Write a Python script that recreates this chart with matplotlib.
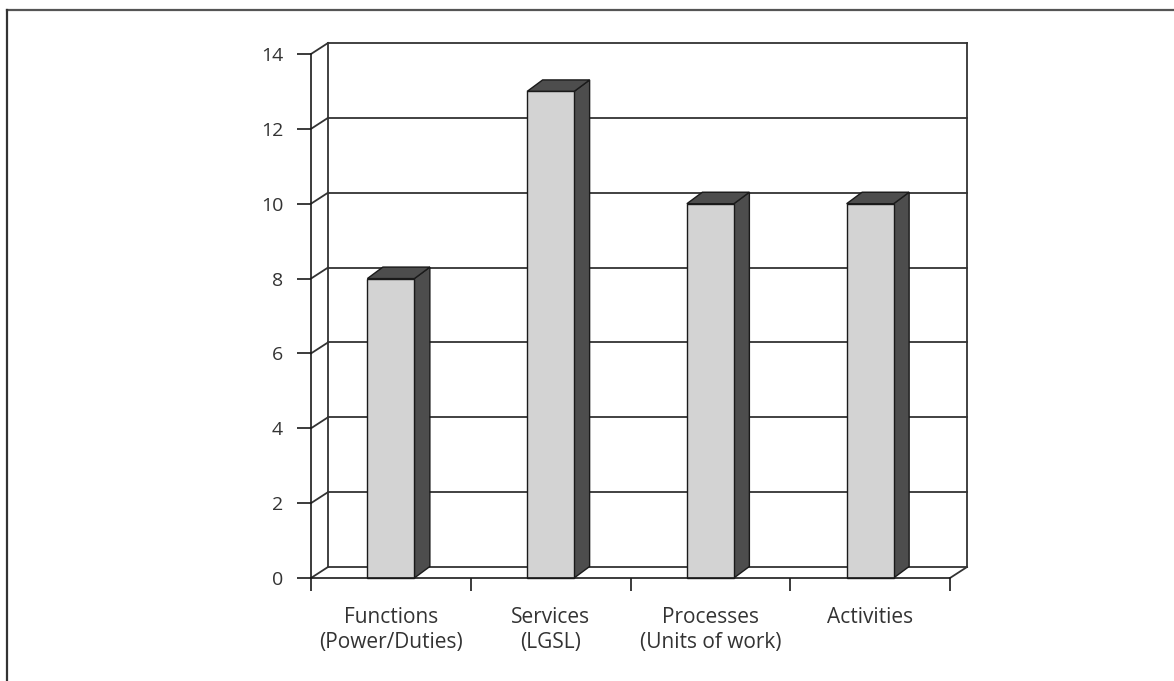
import matplotlib
matplotlib.use("Agg")
import matplotlib.pyplot as plt
from matplotlib.patches import Polygon
from matplotlib.lines import Line2D

# -- Donnees ---------------------------------------------------------------
categories = ["Functions\n(Power/Duties)", "Services\n(LGSL)",
              "Processes\n(Units of work)", "Activities"]
values = [8, 13, 10, 10]
y_ticks = [0, 2, 4, 6, 8, 10, 12, 14]

plt.rcParams["font.family"] = ["Open Sans", "DejaVu Sans"]

W, H = 1174, 681
fig = plt.figure(figsize=(W / 100, H / 100), dpi=100)

# axes = plan avant du graphe 3D (x 311->950 px, y 578->54 px)
ax = fig.add_axes([311 / W, (H - 578) / H, 639 / W, 524 / H])
n = len(categories)
ax.set_xlim(0, n)
ax.set_ylim(0, 14)

# profondeur (en unites de donnees)
px_x = 639 / n
px_y = 524 / 14
DX, DY = 17 / px_x, 11 / px_y
BDX, BDY = 15.5 / px_x, 11.5 / px_y
BAR_W = 47 / px_x

wall = "#333333"
lw = 1.3

# murs : quadrillage sur le fond et diagonales sur le mur gauche
for v in y_ticks:
    ax.add_line(Line2D([DX, n + DX], [v + DY, v + DY], color=wall, lw=lw, clip_on=False))
    ax.add_line(Line2D([0, DX], [v, v + DY], color=wall, lw=lw, clip_on=False))
ax.add_line(Line2D([DX, DX], [DY, 14 + DY], color=wall, lw=lw, clip_on=False))
ax.add_line(Line2D([n + DX, n + DX], [DY, 14 + DY], color=wall, lw=lw, clip_on=False))
ax.add_line(Line2D([n, n + DX], [0, DY], color=wall, lw=lw, clip_on=False))

# barres 3D
for i, v in enumerate(values):
    x0 = i + 0.5 - BAR_W / 2
    x1 = i + 0.5 + BAR_W / 2
    side = Polygon([(x1, 0), (x1 + BDX, BDY), (x1 + BDX, v + BDY), (x1, v)],
                   closed=True, facecolor="#4d4d4d", edgecolor="#1a1a1a",
                   lw=1.0, clip_on=False, zorder=3)
    top = Polygon([(x0, v), (x0 + BDX, v + BDY), (x1 + BDX, v + BDY), (x1, v)],
                  closed=True, facecolor="#4d4d4d", edgecolor="#1a1a1a",
                  lw=1.0, clip_on=False, zorder=3)
    front = Polygon([(x0, 0), (x1, 0), (x1, v), (x0, v)],
                    closed=True, facecolor="#d3d3d3", edgecolor="#1a1a1a",
                    lw=1.0, clip_on=False, zorder=4)
    for p in (side, top, front):
        ax.add_patch(p)

# axes avant
ax.set_facecolor("none")
for s in ("top", "right"):
    ax.spines[s].set_visible(False)
for s in ("left", "bottom"):
    ax.spines[s].set_color("#1a1a1a")
    ax.spines[s].set_linewidth(1.2)
    ax.spines[s].set_zorder(5)

ax.set_yticks(y_ticks)
ax.set_yticklabels([str(t) for t in y_ticks])
ax.tick_params(axis="y", direction="out", length=10, width=1.2, color="#1a1a1a",
               pad=10, labelsize=14, labelcolor="#333333")

ax.set_xticks(range(n + 1))
ax.set_xticklabels([])
ax.tick_params(axis="x", which="major", direction="out", length=9, width=1.2,
               color="#1a1a1a")
ax.set_xticks([i + 0.5 for i in range(n)], minor=True)
ax.set_xticklabels(categories, minor=True, fontsize=15, color="#333333",
                   linespacing=1.25)
ax.tick_params(axis="x", which="minor", length=0, pad=21)

# cadre exterieur
fig.add_artist(Line2D([6.5 / W, 1.0], [1 - 9.5 / H, 1 - 9.5 / H],
                      transform=fig.transFigure, color="#555555", lw=1.6))
fig.add_artist(Line2D([6.5 / W, 6.5 / W], [0, 1 - 9.5 / H],
                      transform=fig.transFigure, color="#333333", lw=1.6))

fig.savefig("out.png", dpi=100)
